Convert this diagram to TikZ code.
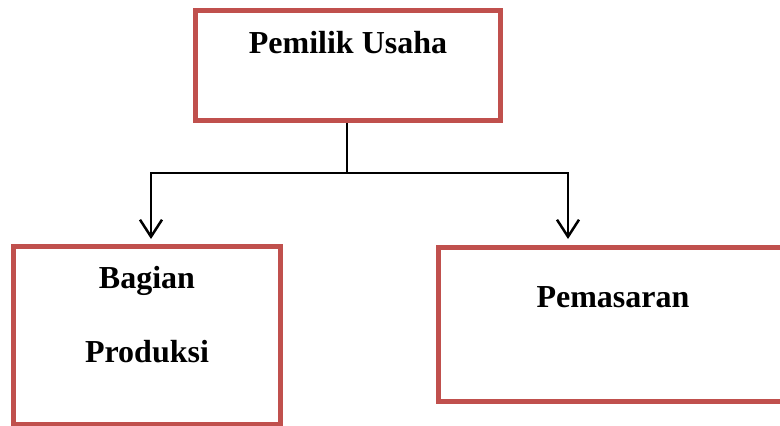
\documentclass[tikz,border=0pt]{standalone}
\usepackage{fontspec}
\setmainfont{Liberation Serif}
\usetikzlibrary{arrows.meta}
\definecolor{boxred}{RGB}{192,80,77}
\tikzset{
  orgbox/.style={draw=boxred, line width=5pt, fill=white, rectangle, inner sep=0pt},
  lbl/.style={anchor=base, font=\fontsize{32}{38}\selectfont\bfseries, inner sep=0pt},
  conn/.style={draw=black, line width=2pt},
  arr/.style={conn, -{Straight Barb[length=17pt,width=22pt,line width=2.5pt]}}
}
\begin{document}
\begin{tikzpicture}[x=1pt,y=-1pt]
\useasboundingbox (0,0) rectangle (780,426);
\clip (0,0) rectangle (780,426);
\node[orgbox, minimum width=305pt, minimum height=110pt] (top) at (348,65.5) {};
\node[orgbox, minimum width=267pt, minimum height=177.5pt] (left) at (147,335.25) {};
\node[orgbox, minimum width=351.5pt, minimum height=154pt] (right) at (614.25,324.5) {};
\node[lbl] (toplbl) at (348,53) {Pemilik Usaha};
\node[lbl] (leftlbl1) at (147,288.5) {Bagian};
\node[lbl] (leftlbl2) at (147,362.5) {Produksi};
\node[lbl] (rightlbl) at (613,307) {Pemasaran};
\coordinate (junc) at (347,173);
\coordinate (ltip) at (151,239);
\coordinate (rtip) at (568,239);
\draw[conn] (top.south -| junc) -- (junc);
\draw[arr] (junc) -| (ltip);
\draw[arr] (junc) -| (rtip);
\end{tikzpicture}
\end{document}
